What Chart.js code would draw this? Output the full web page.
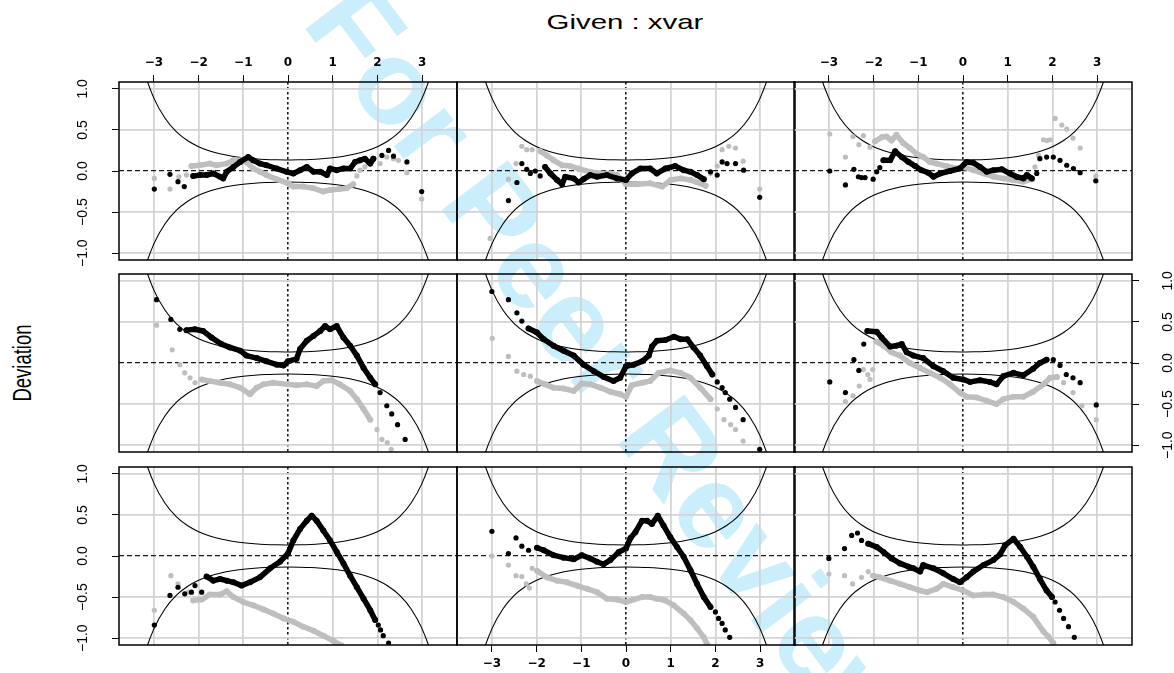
<!DOCTYPE html>
<html>
<head>
<meta charset="utf-8">
<title>Worm plot coplot</title>
<script src="https://cdn.jsdelivr.net/npm/chart.js@4.4.1/dist/chart.umd.min.js"></script>
<style>
	body {
		margin: 0;
		width: 1174px;
		height: 673px;
		overflow: hidden;
		position: relative;
		background: #fff;
		font-family: "Liberation Sans", Arial, sans-serif;
	}
	canvas {
		position: absolute;
		z-index: 1;
	}
	.label {
		position: absolute;
		white-space: nowrap;
		color: #000;
		z-index: 2;
	}
	#mark {
		position: absolute;
		left: 615px;
		top: 370px;
		transform: translate(-50%, -50%) rotate(53deg);
		font: bold 120px "Liberation Sans", Arial, sans-serif;
		color: #cbeefc;
		white-space: nowrap;
		z-index: 0;
	}
	#title {
		left: 625px;
		top: 22px;
		font-size: 21px;
		transform: translate(-50%, -50%) scaleX(1.4);
	}
	#ylab {
		left: 22px;
		top: 363px;
		font-size: 26px;
		transform: translate(-50%, -50%) rotate(-90deg) scaleX(0.71);
	}
</style>
</head>
<body>
<div id="mark">For Peer Review</div>
<div id="title" class="label">Given : xvar</div>
<div id="ylab" class="label">Deviation</div>
<script>
// axis ticks and limits
const xTicks = [-3, -2, -1, 0, 1, 2, 3];
const yTicks = [-1, -0.5, 0, 0.5, 1];
const xRange = [-3.78, 3.78];
const yRange = [-1.083, 1.083];

// half width of the confidence band
const bandZ = [-3.5, -3.25, -3, -2.75, -2.5, -2.25, -2, -1.75, -1.5, -1.25, -1, -0.75, -0.5, -0.25, 0,
	0.25, 0.5, 0.75, 1, 1.25, 1.5, 1.75, 2, 2.25, 2.5, 2.75, 3, 3.25, 3.5];
const bandHalf = [1.87, 1.27, 0.887, 0.642, 0.48, 0.371, 0.296, 0.243, 0.206, 0.18, 0.162, 0.149, 0.14, 0.136, 0.134,
	0.136, 0.14, 0.149, 0.162, 0.18, 0.206, 0.243, 0.296, 0.371, 0.48, 0.642, 0.887, 1.27, 1.87];

// panel 1 (top left)
const p1BlackWorm = [[-2.12,-0.06],[-1.97,-0.05],[-1.82,-0.05],[-1.67,-0.03],[-1.52,-0.07],[-1.45,-0.09],[-1.37,-0.01],[-1.22,0.05],[-1.07,0.11],[-0.89,0.17],[-0.78,0.13],[-0.63,0.09],[-0.48,0.07],[-0.25,0.03],[-0.03,-0.01],[0.12,-0.03],[0.27,0.01],[0.42,0.05],[0.57,-0.01],[0.72,-0.01],[0.87,-0.05],[0.94,0.03],[1.09,0.01],[1.24,0.03],[1.39,0.03],[1.5,0.11],[1.61,0.13],[1.72,0.15],[1.84,0.09],[1.91,0.15]];
const p1BlackDots = [[-2.99,-0.22],[-2.64,-0.04],[-2.46,-0.13],[-2.32,-0.19],[2.1,0.19],[2.25,0.25],[2.36,0.18],[2.66,0.11],[2.99,-0.25]];
const p1GrayWorm = [[-2.16,0.06],[-1.97,0.07],[-1.75,0.09],[-1.6,0.07],[-1.37,0.09],[-1.22,0.13],[-1.04,0.13],[-0.93,0.11],[-0.78,0.03],[-0.63,-0.01],[-0.48,-0.05],[-0.25,-0.1],[0,-0.15],[0.12,-0.19],[0.34,-0.19],[0.57,-0.21],[0.79,-0.25],[0.94,-0.23],[1.16,-0.22],[1.31,-0.21],[1.46,-0.16]];
const p1GrayDots = [[-2.99,-0.09],[-2.64,-0.22],[-2.44,-0.07],[-2.27,-0.05],[1.54,-0.06],[1.61,0.01],[1.72,0.05],[1.8,0.1],[1.87,0.13],[2.06,0.09],[2.21,0.17],[2.36,0.15],[2.47,0.13],[2.66,-0.02],[2.99,-0.34]];

// panel 2 (top middle)
const p2BlackWorm = [[-1.81,0.05],[-1.69,-0.03],[-1.54,-0.11],[-1.43,-0.16],[-1.36,-0.07],[-1.17,-0.09],[-1.06,-0.14],[-0.95,-0.1],[-0.8,-0.05],[-0.65,-0.07],[-0.43,-0.05],[-0.2,-0.09],[0,-0.11],[0.13,-0.03],[0.32,0.03],[0.54,0.03],[0.69,-0.03],[0.88,0.03],[1.1,0.06],[1.29,0.01],[1.44,-0.01],[1.59,-0.05],[1.74,-0.1]];
const p2BlackDots = [[-2.63,-0.36],[-2.44,-0.14],[-2.33,0.09],[-2.22,0.02],[-2.14,-0.03],[-2.03,0],[-1.92,-0.06],[1.89,-0.01],[2.04,-0.05],[2.15,0.11],[2.26,0.09],[2.45,0.09],[2.63,0.01],[2.99,-0.32]];
const p2GrayWorm = [[-1.92,0.24],[-1.77,0.19],[-1.62,0.13],[-1.43,0.07],[-1.25,0.06],[-1.06,0.03],[-0.8,-0.01],[-0.57,-0.03],[-0.35,-0.03],[-0.2,-0.05],[0,-0.16],[0.25,-0.16],[0.54,-0.15],[0.81,-0.19],[1,-0.11],[1.22,-0.09],[1.44,-0.11],[1.66,-0.15],[1.78,-0.18]];
const p2GrayDots = [[-3.04,-0.82],[-2.63,-0.1],[-2.46,0.09],[-2.33,0.3],[-2.22,0.26],[-2.1,0.26],[1.89,-0.03],[2.04,0.06],[2.15,0.26],[2.3,0.3],[2.45,0.28],[2.62,0.12],[2.99,-0.22]];

// panel 3 (top right)
const p3BlackWorm = [[-1.78,0.13],[-1.63,0.13],[-1.52,0.24],[-1.37,0.17],[-1.22,0.11],[-1.07,0.06],[-0.93,0.01],[-0.78,-0.02],[-0.66,-0.07],[-0.51,-0.03],[-0.29,0],[-0.07,0.03],[0.08,0.11],[0.23,0.1],[0.38,0.05],[0.53,-0.01],[0.68,0.01],[0.87,0.02],[1.05,-0.03],[1.2,-0.07],[1.35,-0.09],[1.43,-0.05],[1.54,-0.09]];
const p3BlackDots = [[-2.98,0],[-2.63,-0.17],[-2.44,0.02],[-2.34,-0.07],[-2.27,-0.08],[-2.19,-0.08],[-2.01,-0.1],[-1.93,-0.01],[-1.86,0.04],[1.65,-0.03],[1.72,0.15],[1.87,0.17],[2.02,0.17],[2.17,0.13],[2.32,0.07],[2.47,0.03],[2.62,-0.02],[2.97,-0.12]];
const p3GrayWorm = [[-1.97,0.36],[-1.82,0.41],[-1.71,0.42],[-1.6,0.37],[-1.49,0.44],[-1.34,0.34],[-1.19,0.28],[-1.04,0.21],[-0.89,0.17],[-0.74,0.11],[-0.59,0.09],[-0.37,0.06],[-0.14,0.03],[0,0.05],[0.23,0.01],[0.46,-0.03],[0.68,-0.07],[0.9,-0.09],[1.13,-0.11],[1.35,-0.13],[1.54,-0.1]];
const p3GrayDots = [[-2.98,0.45],[-2.63,0.17],[-2.46,0.42],[-2.33,0.32],[-2.23,0.43],[-2.08,0.29],[1.61,0.05],[1.69,0.19],[1.8,0.38],[1.88,0.37],[1.95,0.38],[2.06,0.64],[2.21,0.56],[2.32,0.51],[2.46,0.4],[2.62,0.28],[2.97,-0.06]];

// panel 4 (middle left)
const p4BlackWorm = [[-2.27,0.4],[-2.08,0.41],[-1.9,0.39],[-1.71,0.31],[-1.49,0.23],[-1.3,0.19],[-1.07,0.15],[-0.93,0.09],[-0.7,0.06],[-0.48,0.02],[-0.25,-0.02],[-0.1,-0.03],[0,0.02],[0.19,0.05],[0.27,0.17],[0.42,0.27],[0.57,0.33],[0.72,0.39],[0.83,0.45],[0.94,0.41],[1.09,0.45],[1.24,0.31],[1.39,0.21],[1.54,0.09],[1.69,-0.06],[1.84,-0.18],[1.95,-0.26]];
const p4BlackDots = [[-2.94,0.77],[-2.62,0.53],[-2.42,0.41],[2.06,-0.36],[2.21,-0.52],[2.32,-0.62],[2.45,-0.75],[2.62,-0.93]];
const p4GrayWorm = [[-1.93,-0.2],[-1.75,-0.22],[-1.52,-0.24],[-1.3,-0.26],[-1.07,-0.3],[-0.85,-0.38],[-0.7,-0.3],[-0.55,-0.26],[-0.33,-0.24],[0,-0.26],[0.19,-0.27],[0.42,-0.26],[0.64,-0.28],[0.79,-0.22],[0.98,-0.21],[1.16,-0.26],[1.39,-0.34],[1.54,-0.44],[1.69,-0.56],[1.84,-0.69]];
const p4GrayDots = [[-2.94,0.46],[-2.59,0.16],[-2.42,-0.02],[-2.31,-0.12],[-2.19,-0.18],[-2.08,-0.24],[1.99,-0.81],[2.1,-0.93],[2.22,-0.97],[2.31,-1.05]];

// panel 5 (centre)
const p5BlackWorm = [[-2.18,0.42],[-1.99,0.37],[-1.84,0.29],[-1.62,0.21],[-1.4,0.15],[-1.17,0.09],[-0.95,-0.02],[-0.72,-0.1],[-0.5,-0.17],[-0.28,-0.22],[-0.13,-0.18],[0,-0.04],[0.17,-0.02],[0.36,0.02],[0.51,0.09],[0.58,0.2],[0.69,0.27],[0.88,0.28],[1.07,0.32],[1.22,0.29],[1.37,0.29],[1.51,0.19],[1.66,0.09],[1.81,-0.04],[1.93,-0.14]];
const p5BlackDots = [[-3,0.87],[-2.63,0.77],[-2.44,0.61],[-2.33,0.51],[2.04,-0.23],[2.15,-0.3],[2.22,-0.36],[2.32,-0.44],[2.45,-0.54],[2.62,-0.69],[2.99,-1.05]];
const p5GrayWorm = [[-1.99,-0.22],[-1.81,-0.26],[-1.62,-0.3],[-1.4,-0.31],[-1.17,-0.34],[-0.99,-0.25],[-0.8,-0.26],[-0.57,-0.3],[-0.35,-0.35],[-0.13,-0.38],[0,-0.41],[0.13,-0.27],[0.36,-0.24],[0.54,-0.22],[0.73,-0.12],[0.99,-0.09],[1.22,-0.12],[1.44,-0.18],[1.66,-0.3],[1.89,-0.44]];
const p5GrayDots = [[-2.99,0.3],[-2.63,0.08],[-2.44,-0.1],[-2.29,-0.14],[-2.14,-0.16],[2.04,-0.56],[2.19,-0.69],[2.34,-0.75],[2.45,-0.81],[2.62,-0.95]];

// panel 6 (middle right)
const p6BlackWorm = [[-2.14,0.39],[-1.93,0.38],[-1.82,0.31],[-1.63,0.2],[-1.49,0.21],[-1.37,0.23],[-1.26,0.13],[-1.11,0.09],[-0.89,0.06],[-0.66,-0.04],[-0.44,-0.1],[-0.22,-0.18],[0,-0.2],[0.16,-0.23],[0.38,-0.21],[0.6,-0.23],[0.75,-0.26],[0.9,-0.16],[1.13,-0.12],[1.35,-0.15],[1.57,-0.07],[1.72,0],[1.87,0.04]];
const p6BlackDots = [[-2.98,-0.23],[-2.63,-0.36],[-2.44,0.04],[-2.33,-0.09],[-2.22,0.23],[2.02,0.04],[2.17,-0.03],[2.31,-0.14],[2.46,-0.18],[2.62,-0.24],[2.98,-0.51]];
const p6GrayWorm = [[-1.93,0.26],[-1.78,0.21],[-1.6,0.13],[-1.41,0.09],[-1.19,0],[-0.96,-0.06],[-0.74,-0.12],[-0.51,-0.18],[-0.29,-0.26],[-0.07,-0.36],[0.08,-0.41],[0.31,-0.42],[0.53,-0.46],[0.75,-0.5],[0.9,-0.44],[1.13,-0.41],[1.35,-0.41],[1.57,-0.35],[1.8,-0.26],[1.95,-0.18],[2.1,-0.17]];
const p6GrayDots = [[-2.63,-0.47],[-2.46,-0.4],[-2.32,-0.28],[-2.23,-0.08],[-2.13,-0.14],[-2.08,-0.2],[-2.02,-0.08],[2.25,-0.24],[2.46,-0.36],[2.66,-0.52],[2.98,-0.69]];

// panel 7 (bottom left)
const p7BlackWorm = [[-1.82,-0.25],[-1.67,-0.3],[-1.52,-0.28],[-1.37,-0.3],[-1.22,-0.32],[-1.04,-0.36],[-0.85,-0.32],[-0.63,-0.26],[-0.4,-0.15],[-0.18,-0.07],[0,0.03],[0.12,0.19],[0.27,0.33],[0.42,0.43],[0.53,0.49],[0.64,0.43],[0.79,0.31],[0.94,0.19],[1.09,0.05],[1.24,-0.09],[1.39,-0.24],[1.54,-0.38],[1.69,-0.52],[1.84,-0.66],[1.95,-0.78]];
const p7BlackDots = [[-2.99,-0.84],[-2.64,-0.48],[-2.46,-0.38],[-2.31,-0.46],[-2.16,-0.44],[-2.08,-0.36],[-1.93,-0.44],[2.02,-0.84],[2.07,-0.9],[2.13,-0.97],[2.25,-1.06]];
const p7GrayWorm = [[-2.12,-0.54],[-1.93,-0.53],[-1.75,-0.47],[-1.52,-0.47],[-1.37,-0.43],[-1.22,-0.5],[-1,-0.56],[-0.78,-0.6],[-0.55,-0.65],[-0.33,-0.7],[-0.1,-0.76],[0.12,-0.8],[0.34,-0.86],[0.57,-0.91],[0.79,-0.97],[1.01,-1.03],[1.2,-1.09]];
const p7GrayDots = [[-2.99,-0.66],[-2.62,-0.24],[-2.46,-0.34],[-2.23,-0.44]];

// panel 8 (bottom middle)
const p8BlackWorm = [[-1.99,0.1],[-1.84,0.07],[-1.62,0.01],[-1.4,-0.02],[-1.17,-0.04],[-0.99,0.01],[-0.8,-0.03],[-0.65,-0.07],[-0.5,-0.1],[-0.35,-0.05],[-0.16,0.05],[0,0.09],[0.1,0.22],[0.21,0.29],[0.36,0.43],[0.47,0.43],[0.58,0.39],[0.71,0.49],[0.84,0.37],[0.99,0.23],[1.14,0.11],[1.29,-0.01],[1.44,-0.17],[1.59,-0.34],[1.74,-0.5],[1.89,-0.62]];
const p8BlackDots = [[-3,0.3],[-2.63,0.03],[-2.46,0.22],[-2.33,0.12],[-2.18,0.07],[2,-0.68],[2.07,-0.76],[2.15,-0.82],[2.22,-0.9],[2.32,-0.99]];
const p8GrayWorm = [[-1.99,-0.18],[-1.77,-0.26],[-1.54,-0.3],[-1.32,-0.32],[-1.1,-0.36],[-0.87,-0.4],[-0.65,-0.44],[-0.43,-0.52],[-0.2,-0.53],[0,-0.56],[0.17,-0.53],[0.36,-0.5],[0.54,-0.5],[0.69,-0.52],[0.88,-0.54],[1.07,-0.6],[1.29,-0.7],[1.44,-0.78],[1.59,-0.88],[1.74,-0.99],[1.81,-1.07]];
const p8GrayDots = [[-3,0],[-2.63,-0.11],[-2.46,-0.24],[-2.33,-0.25],[-2.23,-0.34],[-2.16,-0.39],[-2.1,-0.15]];

// panel 9 (bottom right)
const p9BlackWorm = [[-2.12,0.15],[-1.93,0.11],[-1.78,0.05],[-1.6,-0.03],[-1.41,-0.09],[-1.22,-0.13],[-1.11,-0.15],[-0.96,-0.19],[-0.89,-0.11],[-0.66,-0.15],[-0.44,-0.21],[-0.22,-0.28],[-0.07,-0.32],[0.08,-0.26],[0.23,-0.19],[0.46,-0.11],[0.68,-0.05],[0.83,0.02],[0.94,0.13],[1.13,0.21],[1.28,0.11],[1.43,-0.01],[1.57,-0.13],[1.72,-0.28],[1.87,-0.42],[1.99,-0.5]];
const p9BlackDots = [[-3,-0.03],[-2.65,0.09],[-2.49,0.25],[-2.36,0.28],[-2.27,0.19],[2.06,-0.56],[2.16,-0.66],[2.25,-0.76],[2.36,-0.86],[2.49,-0.99]];
const p9GrayWorm = [[-2.01,-0.24],[-1.86,-0.26],[-1.63,-0.3],[-1.41,-0.34],[-1.19,-0.38],[-0.96,-0.42],[-0.81,-0.44],[-0.59,-0.4],[-0.44,-0.34],[-0.22,-0.38],[0,-0.42],[0.23,-0.48],[0.46,-0.47],[0.68,-0.47],[0.9,-0.5],[1.13,-0.56],[1.35,-0.64],[1.57,-0.74],[1.8,-0.92],[1.91,-0.98],[2.02,-1.06]];
const p9GrayDots = [[-3,-0.22],[-2.65,-0.24],[-2.47,-0.34],[-2.27,-0.26],[-2.12,-0.19]];

const panels = [
	[p1BlackWorm, p1BlackDots, p1GrayWorm, p1GrayDots],
	[p2BlackWorm, p2BlackDots, p2GrayWorm, p2GrayDots],
	[p3BlackWorm, p3BlackDots, p3GrayWorm, p3GrayDots],
	[p4BlackWorm, p4BlackDots, p4GrayWorm, p4GrayDots],
	[p5BlackWorm, p5BlackDots, p5GrayWorm, p5GrayDots],
	[p6BlackWorm, p6BlackDots, p6GrayWorm, p6GrayDots],
	[p7BlackWorm, p7BlackDots, p7GrayWorm, p7GrayDots],
	[p8BlackWorm, p8BlackDots, p8GrayWorm, p8GrayDots],
	[p9BlackWorm, p9BlackDots, p9GrayWorm, p9GrayDots],
];

// layout
const PANEL_LEFT = [119, 457, 794];
const PANEL_TOP = [82, 274, 467];
const PANEL_W = 338;
const PANEL_H = 178;
const MARGIN = 60;
const PAD = 12; // room so edge tick labels are not cut off
const BLACK = "#000000";
const GRAY = "#bebebe";
const GRID = "#d3d3d3";
const minus = (s) => s.replace("-", "\u2212");

const boxPlugin = {
	id: "box",
	afterDatasetsDraw(chart) {
		const { ctx, chartArea: a } = chart;
		ctx.save();
		ctx.strokeStyle = "#000";
		ctx.lineWidth = 1.5;
		ctx.strokeRect(a.left, a.top, a.right - a.left, a.bottom - a.top);
		ctx.restore();
	},
};

const isZero = (c) => c.tick && c.tick.value === 0;

const noPadding = (s) => {
	s.paddingLeft = 0;
	s.paddingRight = 0;
	s.paddingTop = 0;
	s.paddingBottom = 0;
};

// scale that draws the grid inside a panel
const gridScale = (axis) => ({
	type: "linear",
	min: axis === "x" ? xRange[0] : yRange[0],
	max: axis === "x" ? xRange[1] : yRange[1],
	afterBuildTicks: (s) => {
		s.ticks = (axis === "x" ? xTicks : yTicks).map((v) => ({ value: v }));
	},
	afterFit: (s) => {
		if (axis === "x") s.height = 0;
		else s.width = 0;
		noPadding(s);
	},
	ticks: { display: false },
	grid: {
		drawTicks: false,
		color: (c) => (isZero(c) ? "#1a1a1a" : GRID),
		lineWidth: (c) => (isZero(c) ? (axis === "x" ? 1.6 : 1.2) : 1.8),
	},
	border: {
		display: false,
		dash: (c) => (isZero(c) ? (axis === "x" ? [2.5, 2.5] : [5, 3]) : []),
	},
});

// scale that draws ticks and labels outside a panel
const outerScale = (axis, position) => ({
	type: "linear",
	position,
	min: axis === "x" ? xRange[0] : yRange[0],
	max: axis === "x" ? xRange[1] : yRange[1],
	afterBuildTicks: (s) => {
		s.ticks = (axis === "x" ? xTicks : yTicks).map((v) => ({ value: v }));
	},
	afterFit: (s) => {
		if (axis === "x") s.height = MARGIN;
		else s.width = MARGIN;
		noPadding(s);
	},
	grid: {
		drawOnChartArea: false,
		drawTicks: true,
		tickLength: 7,
		tickColor: "#000",
		tickWidth: 1,
	},
	border: { display: false },
	ticks:
		axis === "x"
			? {
					color: "#000",
					padding: 5,
					autoSkip: false,
					maxRotation: 0,
					font: { family: "'DejaVu Sans', sans-serif", size: 12, weight: "bold" },
					callback: (v) => minus(String(v)),
			  }
			: {
					color: "#000",
					padding: 15,
					autoSkip: false,
					minRotation: 90,
					maxRotation: 90,
					crossAlign: "center",
					font: { family: "'Liberation Sans Narrow', 'Liberation Sans', sans-serif", size: 14 },
					callback: (v) => minus(v.toFixed(1)),
			  },
});

const upperBand = bandZ.map((z, i) => [z, bandHalf[i]]);
const lowerBand = bandZ.map((z, i) => [z, -bandHalf[i]]);

const wormSet = (data, color) => ({
	data,
	showLine: true,
	borderColor: color,
	backgroundColor: color,
	borderWidth: 5.5,
	borderCapStyle: "round",
	borderJoinStyle: "round",
	pointRadius: 3,
	pointBorderWidth: 0,
	clip: 0,
});

const dotSet = (data, color) => ({
	data,
	showLine: false,
	backgroundColor: color,
	pointRadius: 2.6,
	pointBorderWidth: 0,
	clip: 0,
});

const bandSet = (data) => ({
	type: "line",
	data,
	borderColor: "#000",
	borderWidth: 1.1,
	pointRadius: 0,
	cubicInterpolationMode: "monotone",
	fill: false,
	clip: 0,
});

panels.forEach(([blackWorm, blackDots, grayWorm, grayDots], i) => {
	const col = i % 3;
	const row = Math.floor(i / 3);
	const top = row === 0 && col !== 1;
	const bottom = row === 2 && col === 1;
	const left = col === 0 && row !== 1;
	const right = col === 2 && row === 1;
	const m = {
		l: left ? MARGIN : 0,
		r: right ? MARGIN : 0,
		t: top ? MARGIN : 0,
		b: bottom ? MARGIN : 0,
	};

	const canvas = document.createElement("canvas");
	canvas.width = PANEL_W + m.l + m.r + 2 * PAD;
	canvas.height = PANEL_H + m.t + m.b + 2 * PAD;
	canvas.style.left = `${PANEL_LEFT[col] - m.l - PAD}px`;
	canvas.style.top = `${PANEL_TOP[row] - m.t - PAD}px`;
	document.body.appendChild(canvas);

	const scales = { x: gridScale("x"), y: gridScale("y") };
	if (top || bottom) scales.xo = outerScale("x", top ? "top" : "bottom");
	if (left || right) scales.yo = outerScale("y", left ? "left" : "right");

	new Chart(canvas, {
		type: "scatter",
		data: {
			// first dataset is painted last
			datasets: [
				wormSet(blackWorm, BLACK),
				dotSet(blackDots, BLACK),
				wormSet(grayWorm, GRAY),
				dotSet(grayDots, GRAY),
				bandSet(upperBand),
				bandSet(lowerBand),
			],
		},
		options: {
			responsive: false,
			animation: false,
			events: [],
			layout: { padding: PAD, autoPadding: false },
			scales,
			plugins: {
				legend: { display: false },
				tooltip: { enabled: false },
			},
		},
		plugins: [boxPlugin],
	});
});
</script>
</body>
</html>
